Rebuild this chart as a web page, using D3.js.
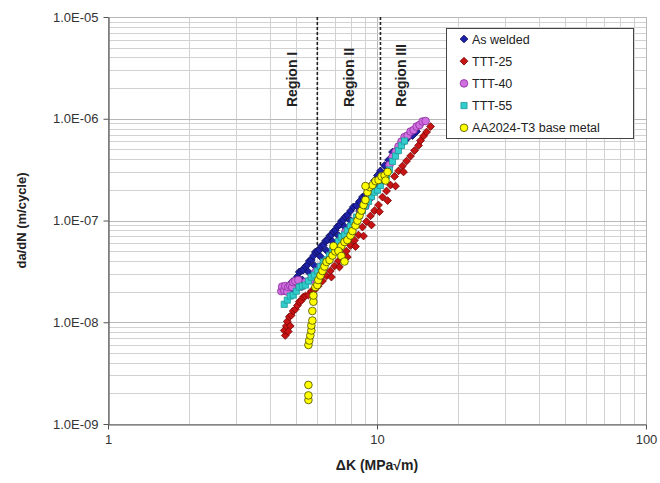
<!DOCTYPE html>
<html><head><meta charset="utf-8">
<script src="https://cdn.jsdelivr.net/npm/d3@7"></script>
<style>
body{margin:0;background:#fff;}
text{font-family:Arial,"Liberation Sans",sans-serif;}
</style>
</head><body>
<svg id="chart" width="660" height="483"></svg>
<script>
// ---------- data ----------
const seriesNames = ["As welded", "TTT-25", "TTT-40", "TTT-55", "AA2024-T3 base metal"];

const asWeldedK = [4.64,4.76,4.84,4.97,5.06,5.14,5.23,5.32,5.42,5.51,5.60,5.70,5.80,5.90,6.00,6.11,6.21,6.32,6.43,6.54,6.66,6.77,6.89,7.00,7.13,7.25,7.37,7.50,7.63,7.76,7.97,8.17,8.39,8.61,8.83,9.06,9.30,9.54,9.79,10.04,10.30,10.67,11.04,11.42,11.82,12.23,12.66,13.10,13.56,14.03,
  4.88,5.28,5.56,5.85,6.16,6.49,6.83,7.19,7.57,7.97,8.61,9.30,10.04,10.95];
const asWeldedRate = [2.07e-8,2.29e-8,2.51e-8,2.60e-8,2.81e-8,3.12e-8,3.19e-8,3.26e-8,3.53e-8,3.65e-8,4.00e-8,4.09e-8,4.48e-8,4.90e-8,5.01e-8,5.13e-8,5.61e-8,5.74e-8,6.29e-8,6.43e-8,7.04e-8,7.20e-8,7.79e-8,8.06e-8,8.73e-8,9.03e-8,9.87e-8,1.01e-7,1.09e-7,1.13e-7,1.24e-7,1.36e-7,1.40e-7,1.54e-7,1.70e-7,1.78e-7,1.99e-7,2.21e-7,2.47e-7,2.77e-7,3.07e-7,3.47e-7,3.93e-7,4.71e-7,4.93e-7,5.46e-7,6.04e-7,6.61e-7,6.84e-7,7.49e-7,
  2.02e-8,2.60e-8,3.12e-8,3.61e-8,4.43e-8,5.07e-8,6.22e-8,7.12e-8,8.73e-8,9.98e-8,1.24e-7,1.57e-7,2.18e-7,3.07e-7];

const ttt25K = [4.56,4.52,4.60,4.64,4.72,4.80,4.88,4.97,5.06,5.14,5.23,5.32,5.42,5.56,5.70,5.85,5.95,6.05,6.27,6.49,6.71,6.95,7.19,7.44,7.70,7.97,8.24,8.53,8.83,9.14,9.46,9.79,10.13,10.48,10.85,11.23,11.62,12.02,12.44,12.88,13.33,13.79,14.27,14.52,14.90,15.29,15.82,
  6.77,7.25,7.76,8.32,8.91,9.54,10.21,10.95,11.72,12.55,4.76,4.68];
const ttt25Rate = [7.41e-9,8.30e-9,9.19e-9,1.02e-8,1.13e-8,1.17e-8,1.29e-8,1.34e-8,1.46e-8,1.59e-8,1.63e-8,1.77e-8,1.81e-8,1.85e-8,2.02e-8,2.07e-8,2.24e-8,2.27e-8,2.54e-8,2.85e-8,3.19e-8,3.57e-8,4.00e-8,4.48e-8,5.01e-8,5.68e-8,6.36e-8,7.20e-8,8.63e-8,9.76e-8,1.11e-7,1.25e-7,1.42e-7,1.70e-7,1.95e-7,2.23e-7,2.71e-7,3.07e-7,3.43e-7,3.84e-7,4.30e-7,4.87e-7,5.46e-7,6.11e-7,6.77e-7,7.41e-7,8.39e-7,
  2.78e-8,3.49e-8,4.38e-8,5.55e-8,7.04e-8,9.03e-8,1.22e-7,1.57e-7,2.18e-7,3.00e-7,9.19e-9,8.11e-9];

const ttt40K = [4.41,4.44,4.52,4.56,4.64,4.68,4.76,4.84,4.88,4.97,5.10,5.23,5.42,5.65,5.90,6.16,6.43,6.71,7.00,7.31,7.63,7.97,8.32,8.68,9.06,9.46,9.87,10.30,10.76,11.13,11.42,11.72,12.02,12.33,12.66,12.99,13.33,13.67,14.03,14.39,14.77,15.16];
const ttt40Rate = [2.02e-8,2.24e-8,2.05e-8,2.27e-8,2.00e-8,2.22e-8,2.29e-8,2.22e-8,2.48e-8,2.54e-8,2.60e-8,2.24e-8,2.48e-8,2.60e-8,3.12e-8,3.53e-8,4.00e-8,4.58e-8,5.55e-8,6.36e-8,7.70e-8,8.73e-8,9.98e-8,1.21e-7,1.39e-7,1.70e-7,1.97e-7,2.39e-7,2.80e-7,3.51e-7,4.21e-7,4.71e-7,5.34e-7,5.97e-7,6.61e-7,6.84e-7,7.49e-7,7.75e-7,8.39e-7,8.68e-7,9.40e-7,9.50e-7];

const ttt55K = [4.52,4.64,4.76,4.88,5.01,5.14,5.28,5.42,5.56,5.70,5.85,6.00,6.16,6.32,6.49,6.66,6.83,7.00,7.19,7.37,7.57,7.76,7.97,8.17,8.39,8.61,8.83,9.06,9.30,9.54,9.79,10.04,10.30,10.57,10.85,11.13,11.42,11.72,12.02,12.33,12.66];
const ttt55Rate = [1.50e-8,1.65e-8,1.81e-8,1.85e-8,2.02e-8,2.22e-8,2.27e-8,2.32e-8,2.54e-8,2.78e-8,2.91e-8,3.19e-8,3.53e-8,3.91e-8,4.09e-8,4.53e-8,5.07e-8,5.61e-8,6.22e-8,6.88e-8,7.20e-8,7.97e-8,8.83e-8,9.76e-8,1.08e-7,1.13e-7,1.25e-7,1.39e-7,1.54e-7,1.72e-7,1.90e-7,1.99e-7,2.21e-7,2.47e-7,2.77e-7,3.14e-7,3.80e-7,4.30e-7,4.87e-7,5.46e-7,6.04e-7];

const baseK = [5.56,5.56,5.56,5.56,5.60,5.65,5.70,5.70,5.75,5.75,5.80,5.80,5.90,6.00,6.05,6.16,6.27,6.38,6.49,6.66,6.83,7.00,7.19,7.37,7.57,7.76,7.97,8.10,8.32,8.46,8.61,8.76,8.91,9.06,9.22,9.38,9.62,9.87,10.13,10.39,10.67,10.95,10.76,9.06,6.89,7.19,7.37,7.57];
const baseRate = [1.72e-9,1.91e-9,2.42e-9,5.98e-9,6.61e-9,7.41e-9,8.30e-9,9.29e-9,1.04e-8,1.29e-8,1.59e-8,1.83e-8,2.22e-8,2.32e-8,2.60e-8,2.88e-8,3.19e-8,3.53e-8,3.91e-8,4.09e-8,4.53e-8,4.96e-8,5.13e-8,5.61e-8,6.15e-8,6.43e-8,7.12e-8,7.88e-8,8.93e-8,9.98e-8,1.12e-7,1.25e-7,1.42e-7,1.59e-7,1.90e-7,2.13e-7,2.23e-7,2.44e-7,2.50e-7,2.71e-7,2.77e-7,3.00e-7,2.47e-7,2.18e-7,5.61e-8,5.01e-8,4.48e-8,3.95e-8];

const xTickValues = [1, 10, 100];
const yTickValues = [1e-9, 1e-8, 1e-7, 1e-6, 1e-5];
const regionBoundK = [6.0, 10.3];
const regionBoundRate = [5.2e-8, 3.2e-7];
const regionLabels = ["Region I", "Region II", "Region III"];
const xTitle = "\u0394K (MPa\u221Am)";
const yTitle = "da/dN (m/cycle)";

// ---------- layout ----------
const W = 660, H = 483;
const pL = 108, pR = 646, pT = 17, pB = 424;
const svg = d3.select("#chart");
svg.append("rect").attr("width", W).attr("height", H).attr("fill", "#fff");

const x = d3.scaleLog().domain([1, 100]).range([pL, pR]);
const y = d3.scaleLog().domain([1e-9, 1e-5]).range([pB, pT]);

// gridlines
const grid = svg.append("g");
grid.selectAll("line.vx").data(x.ticks()).join("line")
  .attr("x1", d => Math.round(x(d)) + 0.5).attr("x2", d => Math.round(x(d)) + 0.5)
  .attr("y1", pT).attr("y2", pB)
  .attr("stroke", d => xTickValues.includes(d) ? "#b8b8b8" : "#d2d2d2").attr("stroke-width", 1);
grid.selectAll("line.hy").data(y.ticks()).join("line")
  .attr("y1", d => Math.round(y(d)) + 0.5).attr("y2", d => Math.round(y(d)) + 0.5)
  .attr("x1", pL).attr("x2", pR)
  .attr("stroke", d => yTickValues.some(t => Math.abs(t - d) / t < 1e-6) ? "#b8b8b8" : "#d2d2d2").attr("stroke-width", 1);

// axes
const fmt = d => {
  const e = Math.round(Math.log10(d));
  const m = d / Math.pow(10, e);
  return m.toFixed(1) + "E" + (e < 0 ? "-" : "+") + String(Math.abs(e)).padStart(2, "0");
};
const yAxis = svg.append("g").attr("transform", `translate(${pL + 0.5},0)`)
  .call(d3.axisLeft(y).tickValues(yTickValues).tickFormat(fmt).tickSize(5).tickSizeOuter(0).tickPadding(5));
const xAxis = svg.append("g").attr("transform", `translate(0,${pB + 0.5})`)
  .call(d3.axisBottom(x).tickValues(xTickValues).tickFormat(d3.format("d")).tickSize(5).tickSizeOuter(0).tickPadding(5));
[yAxis, xAxis].forEach(a => {
  a.select(".domain").attr("stroke", "#555").attr("stroke-width", 1.2);
  a.selectAll(".tick line").attr("stroke", "#555");
  a.selectAll(".tick text").attr("font-size", 13).attr("fill", "#333")
    .attr("font-family", "Arial, 'Liberation Sans', sans-serif");
});

// axis titles
svg.append("text").attr("x", (pL + pR) / 2).attr("y", 470)
  .attr("text-anchor", "middle").attr("font-size", 14).attr("font-weight", "bold").attr("fill", "#222")
  .text(xTitle);
svg.append("text").attr("transform", `translate(26,${(pT + pB) / 2}) rotate(-90)`)
  .attr("text-anchor", "middle").attr("font-size", 13).attr("font-weight", "bold").attr("fill", "#222")
  .text(yTitle);

// region boundaries (dashed)
svg.append("g").selectAll("line").data(regionBoundK).join("line")
  .attr("x1", d => x(d)).attr("x2", d => x(d))
  .attr("y1", y(1e-5)).attr("y2", (d, i) => y(regionBoundRate[i]))
  .attr("stroke", "#222").attr("stroke-width", 1.6).attr("stroke-dasharray", "3,2");

const bx = regionBoundK.map(k => x(k));
const labelX = [bx[0] - 25, (bx[0] + bx[1]) / 2, bx[1] + 21];
svg.append("g").selectAll("text").data(regionLabels).join("text")
  .attr("transform", (d, i) => `translate(${labelX[i] + 5},107) rotate(-90)`)
  .attr("text-anchor", "start").attr("font-size", 14).attr("font-weight", "bold").attr("fill", "#222")
  .text(d => d);

// series
const series = [
  {name: seriesNames[0], K: asWeldedK, R: asWeldedRate, shape: "diamond", fill: "#1e22a8", stroke: "#0c0c5a"},
  {name: seriesNames[1], K: ttt25K, R: ttt25Rate, shape: "diamond", fill: "#c81414", stroke: "#7a0000"},
  {name: seriesNames[2], K: ttt40K, R: ttt40Rate, shape: "circle", fill: "#d070e0", stroke: "#8c2a9c"},
  {name: seriesNames[3], K: ttt55K, R: ttt55Rate, shape: "square", fill: "#33cccc", stroke: "#1a9a9a"},
  {name: seriesNames[4], K: baseK, R: baseRate, shape: "circle", fill: "#ffff00", stroke: "#4a4a00"}
];
const symFor = s => s === "diamond" ? d3.symbol(d3.symbolSquare, 30)
  : s === "square" ? d3.symbol(d3.symbolSquare, 38) : d3.symbol(d3.symbolCircle, 46);
const rot = s => s === "diamond" ? " rotate(45)" : "";

series.forEach(s => {
  const pts = s.K.map((k, i) => [k, s.R[i]]);
  svg.append("g").selectAll("path").data(pts).join("path")
    .attr("d", symFor(s.shape)())
    .attr("transform", d => `translate(${x(d[0])},${y(d[1])})${rot(s.shape)}`)
    .attr("fill", s.fill).attr("stroke", s.stroke).attr("stroke-width", 0.8);
});

// legend
const lg = svg.append("g");
lg.append("rect").attr("x", 446.5).attr("y", 28.5).attr("width", 187).attr("height", 110)
  .attr("fill", "#fff").attr("stroke", "#444").attr("stroke-width", 1);
series.forEach((s, i) => {
  const yy = 39 + i * 22.2;
  lg.append("path").attr("d", symFor(s.shape)())
    .attr("transform", `translate(464,${yy})${rot(s.shape)}`)
    .attr("fill", s.fill).attr("stroke", s.stroke).attr("stroke-width", 0.8);
  lg.append("text").attr("x", 472).attr("y", yy).attr("dy", "0.36em")
    .attr("font-size", 12.5).attr("fill", "#222").text(s.name);
});
</script>
</body></html>
